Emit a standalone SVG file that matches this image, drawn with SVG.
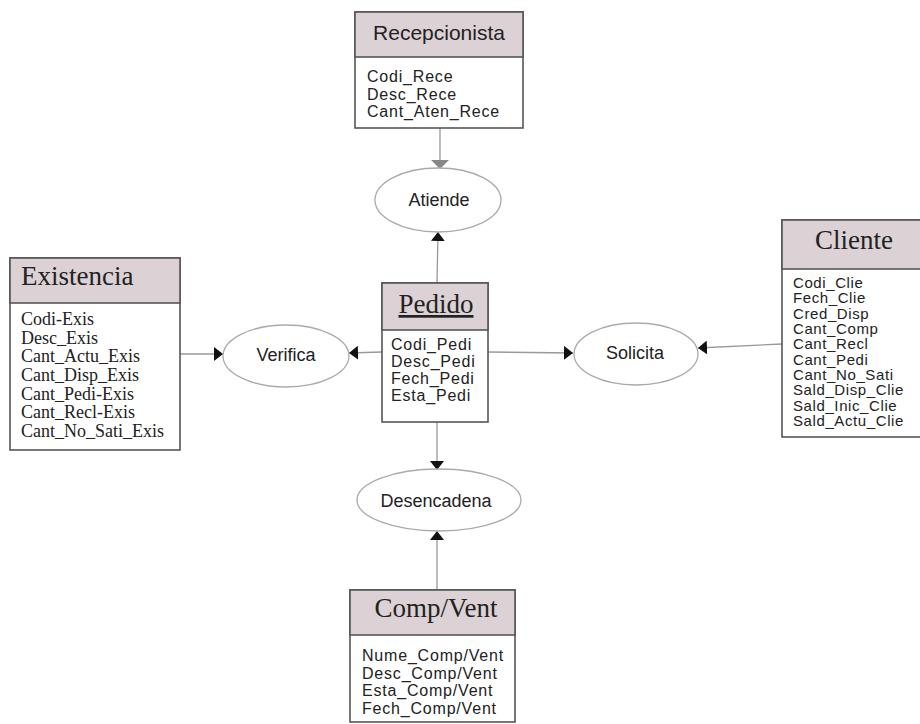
<svg xmlns="http://www.w3.org/2000/svg" width="920" height="724" viewBox="0 0 920 724">
<style>
.box{fill:#ffffff;stroke:#555;stroke-width:1.6}
.hdr{fill:#dcd2d5;stroke:#555;stroke-width:1.6}
.ttl{font-family:"Liberation Serif",serif;font-size:27px;fill:#222}
.ttls{font-family:"Liberation Sans",sans-serif;font-size:21px;fill:#222}
.attr{font-family:"Liberation Sans",sans-serif;font-size:16px;letter-spacing:0.8px;fill:#222}
.attrc{font-family:"Liberation Sans",sans-serif;font-size:15px;letter-spacing:0.6px;fill:#222}
.attrs{font-family:"Liberation Serif",serif;font-size:18px;fill:#222}
.ell{fill:#fff;stroke:#aaa;stroke-width:1.3}
.lbl{font-family:"Liberation Sans",sans-serif;font-size:18px;fill:#222;text-anchor:middle}
.con{stroke:#999;stroke-width:1.3;fill:none}
</style>
<defs>
<marker id="ah" markerWidth="10" markerHeight="14" refX="9" refY="7" orient="auto" markerUnits="userSpaceOnUse">
<path d="M0,0 L9,7 L0,14 Z" fill="#111"/>
</marker>
<marker id="ahg" markerWidth="10" markerHeight="18" refX="9" refY="9" orient="auto" markerUnits="userSpaceOnUse">
<path d="M0,0 L9,9 L0,18 Z" fill="#888"/>
</marker>
</defs>
<rect width="920" height="724" fill="#fff"/>

<g id="connectors">
<line class="con" x1="440" y1="128" x2="440" y2="169" marker-end="url(#ahg)"/>
<line class="con" x1="437" y1="283" x2="438" y2="232" marker-end="url(#ah)"/>
<line class="con" x1="180" y1="354" x2="223" y2="354" marker-end="url(#ah)"/>
<line class="con" x1="382" y1="352" x2="349" y2="353" marker-end="url(#ah)"/>
<line class="con" x1="488" y1="352" x2="573" y2="353" marker-end="url(#ah)"/>
<line class="con" x1="782" y1="344" x2="698" y2="348" marker-end="url(#ah)"/>
<line class="con" x1="437" y1="422" x2="437" y2="470" marker-end="url(#ah)"/>
<line class="con" x1="437" y1="590" x2="437" y2="531" marker-end="url(#ah)"/>
</g>

<g id="recepcionista">
<rect class="box" x="355" y="12" width="168" height="116"/>
<rect class="hdr" x="355" y="12" width="168" height="45"/>
<text class="ttls" x="439" y="40" text-anchor="middle">Recepcionista</text>
<text class="attr" x="367" y="82">Codi_Rece</text>
<text class="attr" x="367" y="99.5">Desc_Rece</text>
<text class="attr" x="367" y="117">Cant_Aten_Rece</text>
</g>

<g id="atiende">
<ellipse class="ell" cx="438" cy="200" rx="63" ry="32"/>
<text class="lbl" x="439" y="206">Atiende</text>
</g>

<g id="existencia">
<rect class="box" x="10" y="258" width="170" height="192"/>
<rect class="hdr" x="10" y="258" width="170" height="45"/>
<text class="ttl" x="21" y="285">Existencia</text>
<text class="attrs" x="21" y="325">Codi-Exis</text>
<text class="attrs" x="21" y="343.7">Desc_Exis</text>
<text class="attrs" x="21" y="362.3">Cant_Actu_Exis</text>
<text class="attrs" x="21" y="381">Cant_Disp_Exis</text>
<text class="attrs" x="21" y="399.7">Cant_Pedi-Exis</text>
<text class="attrs" x="21" y="418.3">Cant_Recl-Exis</text>
<text class="attrs" x="21" y="437">Cant_No_Sati_Exis</text>
</g>

<g id="verifica">
<ellipse class="ell" cx="286" cy="356" rx="63" ry="31"/>
<text class="lbl" x="286" y="361">Verifica</text>
</g>

<g id="pedido">
<rect class="box" x="382" y="283" width="106" height="139"/>
<rect class="hdr" x="382" y="283" width="106" height="47"/>
<text class="ttl" x="436" y="313" text-anchor="middle" font-size="26" text-decoration="underline">Pedido</text>
<text class="attr" x="391" y="350">Codi_Pedi</text>
<text class="attr" x="391" y="367">Desc_Pedi</text>
<text class="attr" x="391" y="384">Fech_Pedi</text>
<text class="attr" x="391" y="401">Esta_Pedi</text>
</g>

<g id="solicita">
<ellipse class="ell" cx="636" cy="354" rx="62" ry="31"/>
<text class="lbl" x="635" y="359">Solicita</text>
</g>

<g id="cliente">
<rect class="box" x="782" y="220" width="145" height="217"/>
<rect class="hdr" x="782" y="220" width="145" height="49"/>
<text class="ttl" x="854" y="249" text-anchor="middle">Cliente</text>
<text class="attrc" x="793" y="288">Codi_Clie</text>
<text class="attrc" x="793" y="303.3">Fech_Clie</text>
<text class="attrc" x="793" y="318.7">Cred_Disp</text>
<text class="attrc" x="793" y="334">Cant_Comp</text>
<text class="attrc" x="793" y="349.3">Cant_Recl</text>
<text class="attrc" x="793" y="364.7">Cant_Pedi</text>
<text class="attrc" x="793" y="380">Cant_No_Sati</text>
<text class="attrc" x="793" y="395.3">Sald_Disp_Clie</text>
<text class="attrc" x="793" y="410.7">Sald_Inic_Clie</text>
<text class="attrc" x="793" y="426">Sald_Actu_Clie</text>
</g>

<g id="desencadena">
<ellipse class="ell" cx="439" cy="500" rx="82" ry="31"/>
<text class="lbl" x="436" y="507">Desencadena</text>
</g>

<g id="compvent">
<rect class="box" x="350" y="590" width="165" height="132"/>
<rect class="hdr" x="350" y="590" width="165" height="45"/>
<text class="ttl" x="436" y="617" text-anchor="middle">Comp/Vent</text>
<text class="attr" x="362" y="661">Nume_Comp/Vent</text>
<text class="attr" x="362" y="678.5">Desc_Comp/Vent</text>
<text class="attr" x="362" y="696">Esta_Comp/Vent</text>
<text class="attr" x="362" y="713.5">Fech_Comp/Vent</text>
</g>
</svg>
